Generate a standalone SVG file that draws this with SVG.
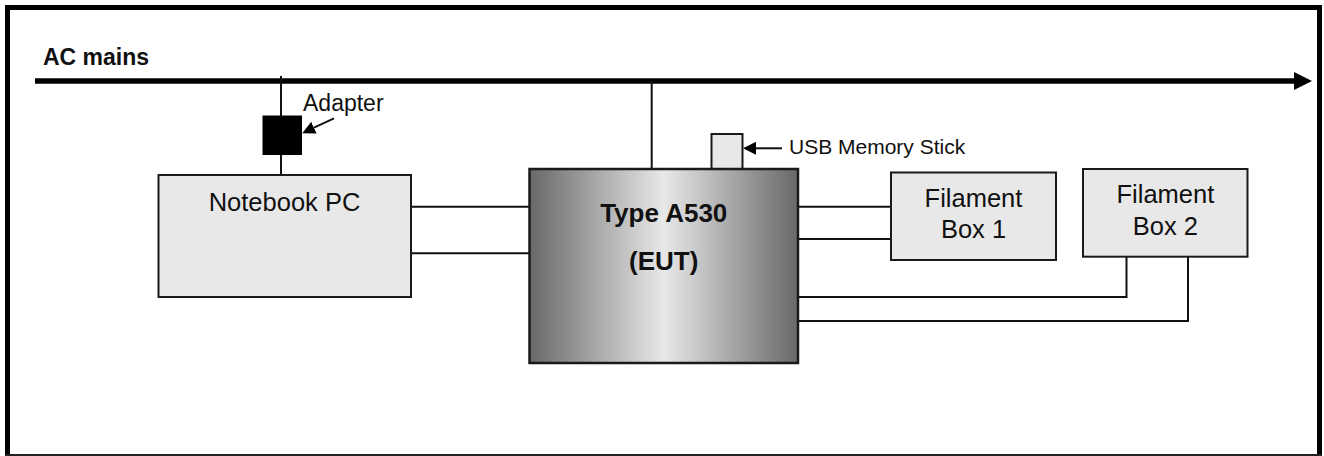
<svg xmlns="http://www.w3.org/2000/svg" width="1324" height="456" viewBox="0 0 1324 456">
  <style>
    .frame{fill:none;stroke:#000;stroke-width:5}
    .wire{fill:none;stroke:#111;stroke-width:2}
    .mains{fill:none;stroke:#000;stroke-width:5.5}
    .box{fill:#e8e8e8;stroke:#1a1a1a;stroke-width:2}
    .eut{fill:url(#eutShade);stroke:#1a1a1a;stroke-width:2.5}
    .txt{font-family:"Liberation Sans",Arial,Helvetica,sans-serif;fill:#111}
    .bold{font-weight:bold}
    .mid{text-anchor:middle}
  </style>
  <defs>
    <linearGradient id="eutShade" x1="0" y1="0" x2="1" y2="0">
      <stop offset="0" stop-color="#686868"/>
      <stop offset="0.5" stop-color="#e8e8e8"/>
      <stop offset="1" stop-color="#686868"/>
    </linearGradient>
    <marker id="bigHead" markerUnits="userSpaceOnUse" markerWidth="18" markerHeight="18" viewBox="0 0 18 18" refX="0" refY="9" orient="auto">
      <path d="M0,0 L18,9 L0,18 z" fill="#000"/>
    </marker>
    <marker id="smallHead" markerUnits="userSpaceOnUse" markerWidth="13" markerHeight="13" viewBox="0 0 13 13" refX="0" refY="6.5" orient="auto">
      <path d="M0,0 L13,6.5 L0,13 z" fill="#000"/>
    </marker>
  </defs>

  <!-- outer frame -->
  <path class="frame" d="M7.5,456 V7.5 H1319.5 V456"/>
  <line x1="5" y1="455" x2="1322" y2="455" stroke="#222" stroke-width="2"/>

  <!-- mains bus label -->
  <text class="txt bold" x="43" y="64.5" font-size="23">AC mains</text>

  <!-- connectors -->
  <g id="connectors">
    <line class="mains" x1="35" y1="81" x2="1294" y2="81" marker-end="url(#bigHead)"/>
    <!-- mains to adapter to notebook -->
    <line class="wire" x1="281" y1="76" x2="281" y2="175"/>
    <!-- mains to EUT -->
    <line class="wire" x1="651.7" y1="81" x2="651.7" y2="169"/>
    <!-- notebook to EUT -->
    <line class="wire" x1="411" y1="206.7" x2="529.5" y2="206.7"/>
    <line class="wire" x1="411" y1="253.3" x2="529.5" y2="253.3"/>
    <!-- EUT to filament box 1 -->
    <line class="wire" x1="798" y1="206.7" x2="892" y2="206.7"/>
    <line class="wire" x1="796.5" y1="239" x2="892" y2="239"/>
    <!-- EUT to filament box 2 -->
    <polyline class="wire" points="798,297 1126.5,297 1126.5,256.7"/>
    <polyline class="wire" points="798,321 1188,321 1188,256.7"/>
    <!-- callout arrows -->
    <line class="wire" x1="334" y1="118.3" x2="314" y2="127.7" marker-end="url(#smallHead)"/>
    <line class="wire" x1="782" y1="148.3" x2="756" y2="148.3" marker-end="url(#smallHead)"/>
  </g>

  <g id="adapter">
    <rect x="262.5" y="115.5" width="39.5" height="39.5" fill="#000"/>
    <text class="txt" x="303" y="111" font-size="23">Adapter</text>
  </g>

  <g id="notebook-pc">
    <rect class="box" x="158.5" y="175" width="252.5" height="122"/>
    <text class="txt mid" x="284.5" y="210.5" font-size="25.5">Notebook PC</text>
  </g>

  <g id="usb-stick">
    <rect class="box" x="711.5" y="134" width="31" height="35"/>
    <text class="txt" x="789" y="154" font-size="21">USB Memory Stick</text>
  </g>

  <g id="eut">
    <rect class="eut" x="529.5" y="169" width="268.5" height="194"/>
    <text class="txt bold mid" x="663.75" y="221.5" font-size="26">Type A530</text>
    <text class="txt bold mid" x="663.75" y="270" font-size="26">(EUT)</text>
  </g>

  <g id="filament-box-1">
    <rect class="box" x="891" y="172.5" width="165" height="87.5"/>
    <text class="txt mid" x="973.5" y="206.7" font-size="25.5">Filament</text>
    <text class="txt mid" x="973.5" y="238.3" font-size="25.5">Box 1</text>
  </g>

  <g id="filament-box-2">
    <rect class="box" x="1083" y="169" width="164.5" height="87.7"/>
    <text class="txt mid" x="1165.4" y="203.3" font-size="25.5">Filament</text>
    <text class="txt mid" x="1165.4" y="235" font-size="25.5">Box 2</text>
  </g>
</svg>
